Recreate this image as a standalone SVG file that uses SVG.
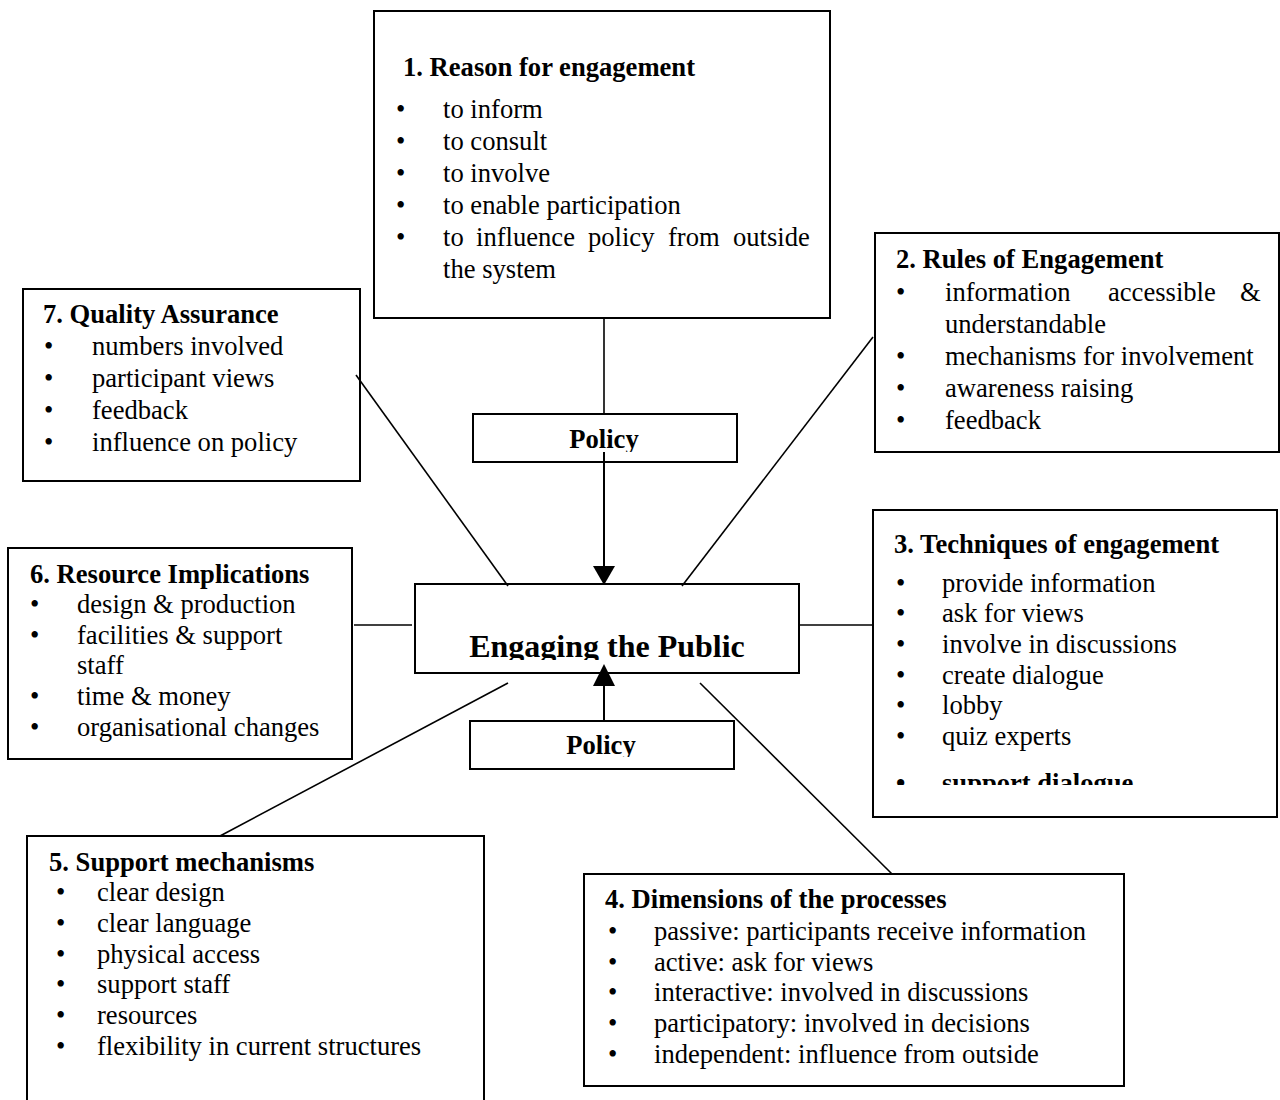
<svg xmlns="http://www.w3.org/2000/svg" width="1280" height="1100" viewBox="0 0 1280 1100">
<style>
.box{fill:#fff;stroke:#000;stroke-width:2}
.t{font-family:"Liberation Serif","Times New Roman",serif;font-size:26.6px;fill:#000}
.b{font-weight:bold}
.ln{stroke:#000;stroke-width:1.6;fill:none}
.ar{stroke:#000;stroke-width:2;fill:none}
</style>
<defs>
<clipPath id="cP1"><rect x="473" y="414" width="264" height="38"/></clipPath>
<clipPath id="cP2"><rect x="470" y="721" width="264" height="36"/></clipPath>
<clipPath id="cC"><rect x="415" y="584" width="384" height="76"/></clipPath>
<clipPath id="c3"><rect x="873" y="510" width="404" height="275"/></clipPath>
</defs>
<rect width="1280" height="1100" fill="#fff"/>
<g id="node1">
<rect class="box" x="374" y="11" width="456" height="307"/>
<text class="t b" x="403" y="76">1. Reason for engagement</text>
<text class="t" x="396" y="118">•</text><text class="t" x="443" y="118">to inform</text>
<text class="t" x="396" y="150">•</text><text class="t" x="443" y="150">to consult</text>
<text class="t" x="396" y="182">•</text><text class="t" x="443" y="182">to involve</text>
<text class="t" x="396" y="214">•</text><text class="t" x="443" y="214">to enable participation</text>
<text class="t" x="396" y="246">•</text><text class="t" y="246"><tspan x="443">to</tspan><tspan x="476">influence</tspan><tspan x="588">policy</tspan><tspan x="668">from</tspan><tspan x="733">outside</tspan></text>
<text class="t" x="443" y="278">the system</text>
</g>
<g id="node2">
<rect class="box" x="875" y="233" width="404" height="219"/>
<text class="t b" x="896" y="268">2. Rules of Engagement</text>
<text class="t" x="896" y="301">•</text><text class="t" y="301"><tspan x="945">information</tspan><tspan x="1108">accessible</tspan><tspan x="1240">&amp;</tspan></text>
<text class="t" x="945" y="333">understandable</text>
<text class="t" x="896" y="365">•</text><text class="t" x="945" y="365">mechanisms for involvement</text>
<text class="t" x="896" y="397">•</text><text class="t" x="945" y="397">awareness raising</text>
<text class="t" x="896" y="429">•</text><text class="t" x="945" y="429">feedback</text>
</g>
<g id="node7">
<rect class="box" x="23" y="289" width="337" height="192"/>
<text class="t b" x="43" y="323">7. Quality Assurance</text>
<text class="t" x="44" y="355">•</text><text class="t" x="92" y="355">numbers involved</text>
<text class="t" x="44" y="387">•</text><text class="t" x="92" y="387">participant views</text>
<text class="t" x="44" y="419">•</text><text class="t" x="92" y="419">feedback</text>
<text class="t" x="44" y="451">•</text><text class="t" x="92" y="451">influence on policy</text>
</g>
<g id="policy-top">
<rect class="box" x="473" y="414" width="264" height="48"/>
<text class="t b" x="604" y="448" text-anchor="middle" font-size="26" clip-path="url(#cP1)">Policy</text>
</g>
<g id="center">
<rect class="box" x="415" y="584" width="384" height="89"/>
<text class="t b" x="607" y="657" text-anchor="middle" style="font-size:32px" clip-path="url(#cC)">Engaging the Public</text>
</g>
<g id="policy-bottom">
<rect class="box" x="470" y="721" width="264" height="48"/>
<text class="t b" x="601" y="754" text-anchor="middle" font-size="26" clip-path="url(#cP2)">Policy</text>
</g>
<g id="node6">
<rect class="box" x="8" y="548" width="344" height="211"/>
<text class="t b" x="30" y="583">6. Resource Implications</text>
<text class="t" x="30" y="613">•</text><text class="t" x="77" y="613">design &amp; production</text>
<text class="t" x="30" y="644">•</text><text class="t" x="77" y="644">facilities &amp; support</text>
<text class="t" x="77" y="674">staff</text>
<text class="t" x="30" y="705">•</text><text class="t" x="77" y="705">time &amp; money</text>
<text class="t" x="30" y="736">•</text><text class="t" x="77" y="736">organisational changes</text>
</g>
<g id="node3">
<rect class="box" x="873" y="510" width="404" height="307"/>
<text class="t b" x="894" y="553">3. Techniques of engagement</text>
<text class="t" x="896" y="592">•</text><text class="t" x="942" y="592">provide information</text>
<text class="t" x="896" y="622">•</text><text class="t" x="942" y="622">ask for views</text>
<text class="t" x="896" y="653">•</text><text class="t" x="942" y="653">involve in discussions</text>
<text class="t" x="896" y="684">•</text><text class="t" x="942" y="684">create dialogue</text>
<text class="t" x="896" y="714">•</text><text class="t" x="942" y="714">lobby</text>
<text class="t" x="896" y="745">•</text><text class="t" x="942" y="745">quiz experts</text>
<g clip-path="url(#c3)">
<text class="t b" x="896" y="792">•</text><text class="t b" x="942" y="792">support dialogue</text>
</g>
</g>
<g id="node5">
<rect class="box" x="27" y="836" width="457" height="280"/>
<text class="t b" x="49" y="871">5. Support mechanisms</text>
<text class="t" x="56" y="901">•</text><text class="t" x="97" y="901">clear design</text>
<text class="t" x="56" y="932">•</text><text class="t" x="97" y="932">clear language</text>
<text class="t" x="56" y="963">•</text><text class="t" x="97" y="963">physical access</text>
<text class="t" x="56" y="993">•</text><text class="t" x="97" y="993">support staff</text>
<text class="t" x="56" y="1024">•</text><text class="t" x="97" y="1024">resources</text>
<text class="t" x="56" y="1055">•</text><text class="t" x="97" y="1055">flexibility in current structures</text>
</g>
<g id="node4">
<rect class="box" x="584" y="874" width="540" height="212"/>
<text class="t b" x="605" y="908">4. Dimensions of the processes</text>
<text class="t" x="608" y="940">•</text><text class="t" x="654" y="940">passive: participants receive information</text>
<text class="t" x="608" y="971">•</text><text class="t" x="654" y="971">active: ask for views</text>
<text class="t" x="608" y="1001">•</text><text class="t" x="654" y="1001">interactive: involved in discussions</text>
<text class="t" x="608" y="1032">•</text><text class="t" x="654" y="1032">participatory: involved in decisions</text>
<text class="t" x="608" y="1063">•</text><text class="t" x="654" y="1063">independent: influence from outside</text>
</g>
<g id="connectors">
<line class="ln" x1="604" y1="318" x2="604" y2="414"/>
<line class="ar" x1="604" y1="452" x2="604" y2="568"/>
<polygon points="593,566 615,566 604,585" fill="#000"/>
<line class="ar" x1="604" y1="721" x2="604" y2="684"/>
<polygon points="593,686 615,686 604,664" fill="#000"/>
<line class="ln" x1="356" y1="375" x2="508" y2="586"/>
<line class="ln" x1="873" y1="337" x2="682" y2="586"/>
<line class="ln" x1="354" y1="625" x2="412" y2="625"/>
<line class="ln" x1="799" y1="625" x2="873" y2="625"/>
<line class="ln" x1="508" y1="683" x2="220" y2="836"/>
<line class="ln" x1="700" y1="683" x2="892" y2="874"/>
</g>
</svg>
